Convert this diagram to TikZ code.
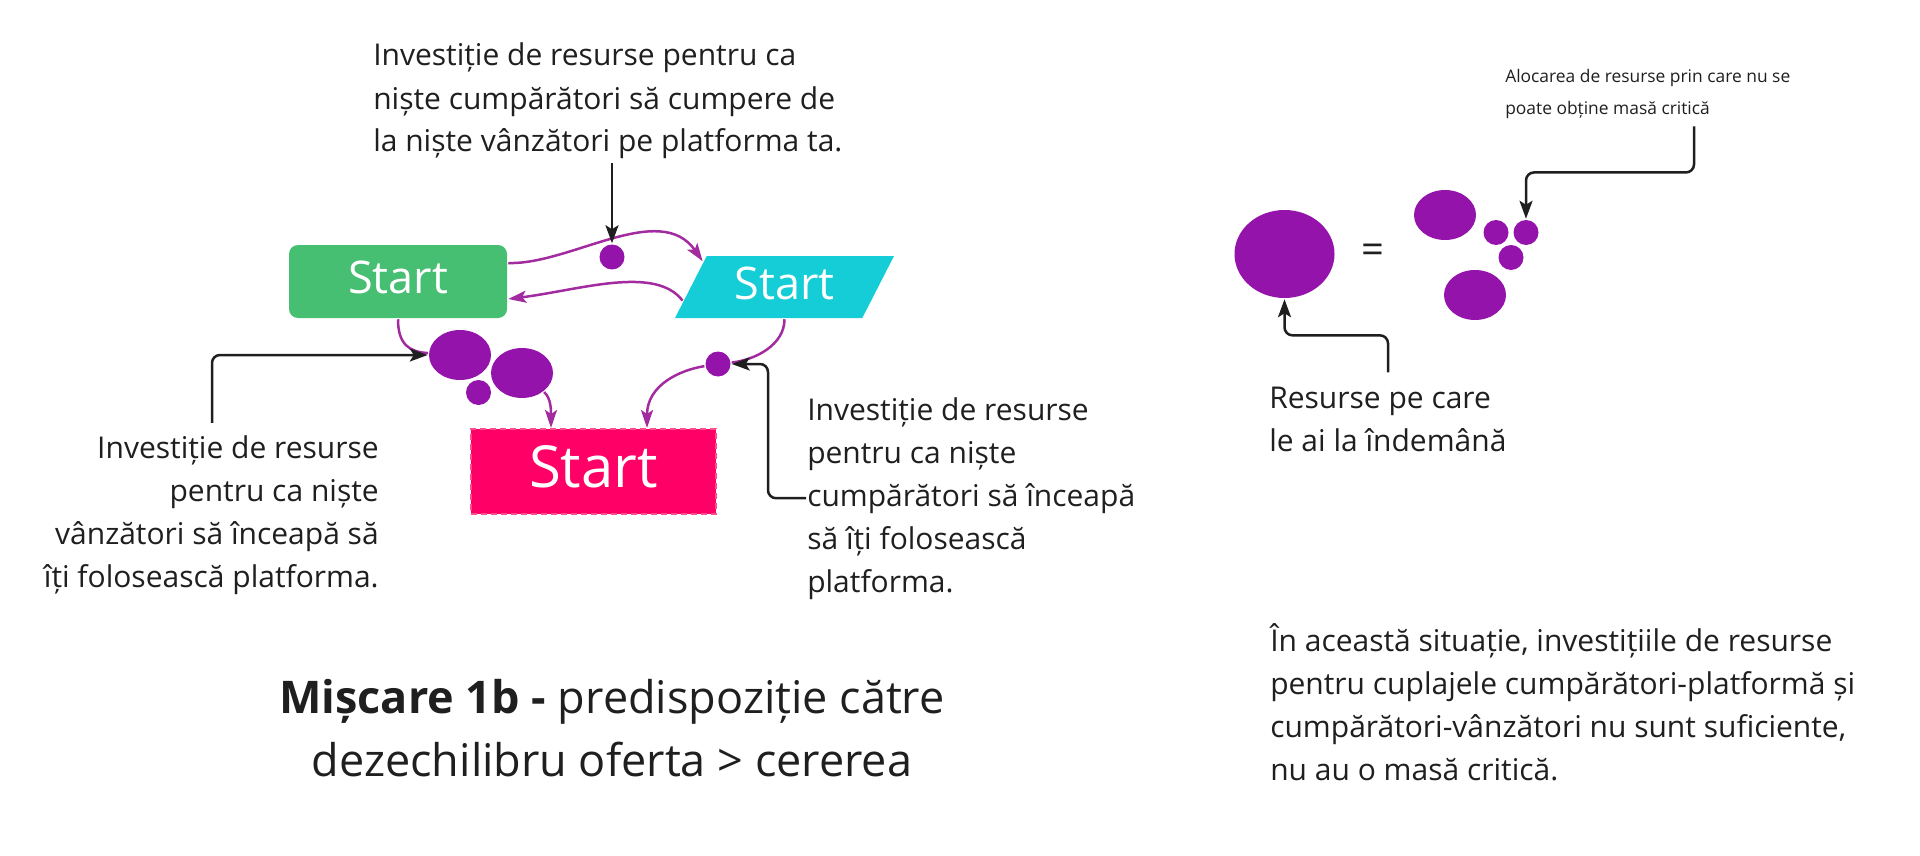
\documentclass[tikz,border=0pt]{standalone}
\usepackage{fontspec}
\setmainfont{Open Sans}
\usetikzlibrary{shapes.geometric, arrows.meta, calc}

\definecolor{boxgreen}{HTML}{47BF73}
\definecolor{boxcyan}{HTML}{14CDD6}
\definecolor{boxpink}{HTML}{FF0066}
\definecolor{dashpink}{HTML}{FF4D90}
\definecolor{blobpurple}{HTML}{9413AA}
\definecolor{flowpurple}{HTML}{A22BA0}
\definecolor{ink}{HTML}{1F1F1F}

\begin{document}
\begin{tikzpicture}[x=1pt, y=-1pt, line width=2.5pt,
    txt/.style={text=ink, inner sep=0, font=\fontsize{30}{43}\selectfont},
    smalltxt/.style={text=ink, inner sep=0, font=\fontsize{17.4}{32}\selectfont},
    captiontxt/.style={text=ink, inner sep=0, font=\fontsize{45}{63}\selectfont},
    startlbl/.style={text=white, inner sep=0, text depth=8, font=\fontsize{45}{50}\selectfont},
    greenbox/.style={startlbl, fill=boxgreen, rounded corners=9, minimum width=218, minimum height=73},
    cyanbox/.style={startlbl, trapezium, trapezium left angle=52, trapezium right angle=128, trapezium stretches body=true, fill=boxcyan, minimum width=219, minimum height=62},
    pinkbox/.style={startlbl, text depth=11, font=\fontsize{58}{60}\selectfont, fill=boxpink, draw=dashpink, line width=2pt, dash pattern=on 6pt off 4pt, minimum width=245, minimum height=85},
    bigblob/.style={ellipse, fill=blobpurple, inner sep=0, minimum width=62, minimum height=50},
    smalldot/.style={circle, fill=blobpurple, inner sep=0, minimum size=25},
    flow/.style={draw=flowpurple, -{Stealth[length=18pt, width=12pt, inset=4pt]}},
    pointer/.style={draw=ink, rounded corners=8, -{Stealth[length=18pt, width=13pt, inset=4pt]}}]
    \useasboundingbox (0, 0) rectangle (1920, 856);

    % draw boxes
    \node[greenbox] (green) at (398, 281.5) {Start};
    \node[cyanbox] (cyan) at (784.5, 287) {Start};
    \node[pinkbox] (pink) at (593.5, 471.5) {Start};

    % draw resources
    \node[smalldot] (dotTop) at (612, 257) {};
    \node[smalldot] (dotRight) at (718, 364) {};
    \node[bigblob] (blobA) at (460, 355) {};
    \node[bigblob] (blobB) at (522, 373) {};
    \node[smalldot] (blobC) at (478.5, 392.5) {};

    % draw purple links
    \draw[flow] ($(green.east)+(0,-18.5)$) .. controls (570, 265) and (660, 200) .. ($(cyan.top left corner)!0.1!(cyan.bottom left corner)$);
    \draw[flow] ($(cyan.bottom left corner)!0.29!(cyan.top left corner)$) .. controls (655, 265) and (580, 290) .. ($(green.east)+(0,17.5)$);
    \draw[flow, -] (green.south) .. controls (398, 345) and (410, 352) .. (blobA);
    \draw[flow] (blobB) .. controls (551, 398) and (551, 410) .. ($(pink.north)+(-42.5,0)$);
    \draw[flow, -] (cyan.center |- cyan.south) .. controls (784.5, 345) and (755, 360) .. (dotRight);
    \draw[flow] (dotRight) .. controls (680, 370) and (647, 385) .. ($(pink.north)+(53.5,0)$);

    % draw texts
    \node[txt, anchor=base west, align=left, inner ysep=3] (topnote) at (372, 152) {Investiție de resurse pentru ca\\niște cumpărători să cumpere de\\la niște vânzători pe platforma ta.};
    \node[txt, anchor=base east, align=right, inner ysep=11] (leftnote) at (380, 587) {Investiție de resurse\\pentru ca niște\\vânzători să înceapă să\\îți folosească platforma.};
    \node[txt, anchor=base west, align=left] (rightnote) at (806, 592) {Investiție de resurse\\pentru ca niște\\cumpărători să înceapă\\să îți folosească\\platforma.};
    \node[captiontxt, anchor=base, align=center] (caption) at (612, 776) {\textbf{Mișcare 1b -} predispoziție către\\dezechilibru oferta > cererea};

    % draw pointers
    \draw[pointer] (dotTop |- topnote.south) -- (dotTop);
    \draw[pointer] ($(leftnote.north east)+(-168,0)$) |- (blobA);
    \draw[pointer] (rightnote.west) -- ++(-38, 0) |- (dotRight);

    % draw right side
    \node[ellipse, fill=blobpurple, inner sep=0, minimum width=100, minimum height=88] (bigRes) at (1284.5, 254) {};
    \node[text=ink, font=\fontsize{40}{40}\selectfont] (equals) at (1373, 254) {=};
    \node[bigblob] (resA) at (1445, 215) {};
    \node[smalldot] (resB) at (1496, 232.5) {};
    \node[smalldot] (resC) at (1526, 232.5) {};
    \node[smalldot] (resD) at (1511, 257.5) {};
    \node[bigblob] (resE) at (1475, 295) {};

    \node[smalltxt, anchor=base west, align=left, inner ysep=6] (allocnote) at (1504, 115) {Alocarea de resurse prin care nu se\\poate obține masă critică};
    \node[txt, anchor=base west, align=left, inner ysep=13] (resnote) at (1268, 451) {Resurse pe care\\le ai la îndemână};
    \node[txt, anchor=base west, align=left] (summary) at (1269, 780) {În această situație, investițiile de resurse\\pentru cuplajele cumpărători-platformă și\\cumpărători-vânzători nu sunt suficiente,\\nu au o masă critică.};

    \draw[pointer] ($(allocnote.south west)+(190,0)$) -- ++(0, 46) -| (resC);
    \draw[pointer] ($(resnote.north west)+(120,0)$) -- ++(0, -37) -| (bigRes);
\end{tikzpicture}
\end{document}
